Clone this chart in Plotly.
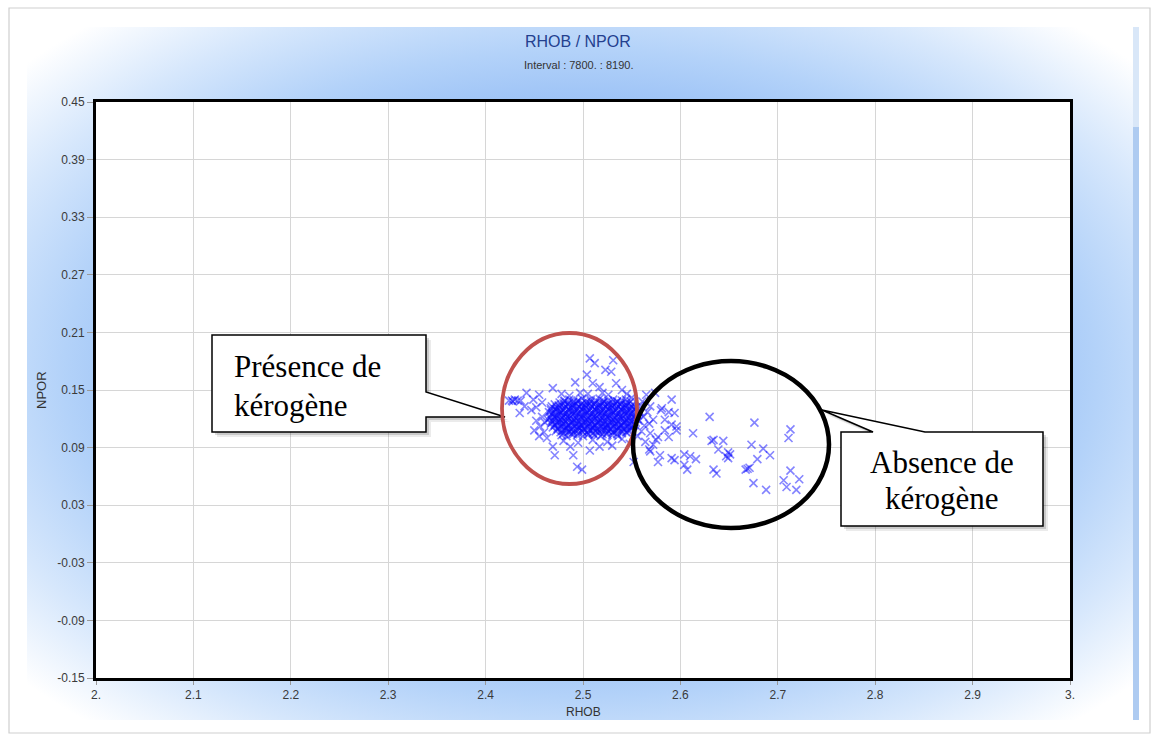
import base64
import plotly.graph_objects as go

# ---------------- data ----------------
# dense core of the cloud (first layer)
rhob_core = [
    2.481, 2.486, 2.490, 2.495, 2.499, 2.504, 2.508, 2.513, 2.517, 2.522, 2.526, 2.531, 2.535, 2.540, 2.544,
    2.471, 2.475, 2.480, 2.484, 2.489, 2.493, 2.498, 2.502, 2.507, 2.511, 2.516, 2.520, 2.525, 2.529, 2.534, 2.538, 2.543, 2.547, 2.551,
    2.467, 2.472, 2.476, 2.481, 2.485, 2.490, 2.494, 2.499, 2.503, 2.508, 2.512, 2.517, 2.521, 2.526, 2.530, 2.535, 2.539, 2.544, 2.548, 2.553,
    2.465, 2.469, 2.474, 2.478, 2.483, 2.487, 2.492, 2.496, 2.501, 2.505, 2.510, 2.514, 2.519, 2.523, 2.528, 2.532, 2.537, 2.541, 2.546, 2.550, 2.555,
    2.466, 2.471, 2.475, 2.480, 2.484, 2.489, 2.493, 2.498, 2.502, 2.507, 2.511, 2.516, 2.520, 2.525, 2.529, 2.534, 2.538, 2.543, 2.547, 2.552, 2.556,
    2.464, 2.468, 2.473, 2.477, 2.482, 2.486, 2.491, 2.495, 2.500, 2.504, 2.509, 2.513, 2.518, 2.522, 2.527, 2.531, 2.536, 2.540, 2.545, 2.549, 2.554,
    2.467, 2.471, 2.476, 2.480, 2.485, 2.489, 2.494, 2.498, 2.503, 2.507, 2.512, 2.516, 2.521, 2.525, 2.530, 2.534, 2.539, 2.543, 2.548, 2.553,
    2.469, 2.474, 2.478, 2.483, 2.487, 2.492, 2.496, 2.501, 2.505, 2.510, 2.514, 2.519, 2.523, 2.528, 2.532, 2.537, 2.541, 2.546, 2.550,
    2.472, 2.477, 2.481, 2.486, 2.490, 2.495, 2.499, 2.504, 2.508, 2.513, 2.517, 2.522, 2.526, 2.531, 2.535, 2.540, 2.544, 2.548,
    2.478, 2.483, 2.488, 2.494, 2.500, 2.506, 2.512, 2.518, 2.524, 2.530, 2.536,
]
npor_core = [
    0.139, 0.140, 0.138, 0.139, 0.141, 0.138, 0.140, 0.139, 0.141, 0.138, 0.139, 0.140, 0.138, 0.139, 0.140,
    0.135, 0.134, 0.136, 0.135, 0.134, 0.136, 0.135, 0.134, 0.136, 0.135, 0.134, 0.136, 0.135, 0.134, 0.136, 0.135, 0.134, 0.136, 0.135,
    0.131, 0.130, 0.132, 0.131, 0.130, 0.132, 0.131, 0.130, 0.132, 0.131, 0.130, 0.132, 0.131, 0.130, 0.132, 0.131, 0.130, 0.132, 0.131, 0.130,
    0.127, 0.126, 0.128, 0.127, 0.126, 0.128, 0.127, 0.126, 0.128, 0.127, 0.126, 0.128, 0.127, 0.126, 0.128, 0.127, 0.126, 0.128, 0.127, 0.126, 0.128,
    0.123, 0.122, 0.124, 0.123, 0.122, 0.124, 0.123, 0.122, 0.124, 0.123, 0.122, 0.124, 0.123, 0.122, 0.124, 0.123, 0.122, 0.124, 0.123, 0.122, 0.124,
    0.119, 0.118, 0.120, 0.119, 0.118, 0.120, 0.119, 0.118, 0.120, 0.119, 0.118, 0.120, 0.119, 0.118, 0.120, 0.119, 0.118, 0.120, 0.119, 0.118, 0.120,
    0.115, 0.114, 0.116, 0.115, 0.114, 0.116, 0.115, 0.114, 0.116, 0.115, 0.114, 0.116, 0.115, 0.114, 0.116, 0.115, 0.114, 0.116, 0.115, 0.114,
    0.111, 0.110, 0.112, 0.111, 0.110, 0.112, 0.111, 0.110, 0.112, 0.111, 0.110, 0.112, 0.111, 0.110, 0.112, 0.111, 0.110, 0.112, 0.111,
    0.107, 0.106, 0.108, 0.107, 0.106, 0.108, 0.107, 0.106, 0.108, 0.107, 0.106, 0.108, 0.107, 0.106, 0.108, 0.107, 0.106, 0.108,
    0.103, 0.102, 0.104, 0.103, 0.102, 0.104, 0.103, 0.102, 0.104, 0.103, 0.102,
]

# dense core (second, interleaved layer)
rhob_core2 = [
    2.476, 2.481, 2.485, 2.490, 2.494, 2.499, 2.503, 2.508, 2.512, 2.517, 2.521, 2.526, 2.530, 2.535, 2.539, 2.544, 2.549,
    2.468, 2.473, 2.478, 2.482, 2.487, 2.491, 2.496, 2.500, 2.505, 2.509, 2.514, 2.518, 2.523, 2.527, 2.532, 2.536, 2.541, 2.545, 2.550, 2.554,
    2.467, 2.471, 2.476, 2.480, 2.485, 2.489, 2.494, 2.498, 2.503, 2.507, 2.512, 2.516, 2.521, 2.525, 2.530, 2.534, 2.539, 2.543, 2.548, 2.552, 2.557,
    2.468, 2.473, 2.477, 2.482, 2.486, 2.491, 2.495, 2.500, 2.504, 2.509, 2.513, 2.518, 2.522, 2.527, 2.531, 2.536, 2.540, 2.545, 2.549, 2.554, 2.558,
    2.466, 2.470, 2.475, 2.479, 2.484, 2.488, 2.493, 2.497, 2.502, 2.506, 2.511, 2.515, 2.520, 2.524, 2.529, 2.533, 2.538, 2.542, 2.547, 2.551, 2.556,
    2.469, 2.473, 2.478, 2.482, 2.487, 2.491, 2.496, 2.500, 2.505, 2.509, 2.514, 2.518, 2.523, 2.527, 2.532, 2.536, 2.541, 2.545, 2.550, 2.554,
    2.471, 2.476, 2.480, 2.485, 2.489, 2.494, 2.498, 2.503, 2.507, 2.512, 2.516, 2.521, 2.525, 2.530, 2.534, 2.539, 2.543, 2.548, 2.552,
    2.474, 2.479, 2.483, 2.488, 2.492, 2.497, 2.501, 2.506, 2.510, 2.515, 2.519, 2.524, 2.528, 2.533, 2.537, 2.542, 2.546, 2.550,
    2.480, 2.485, 2.490, 2.495, 2.500, 2.505, 2.510, 2.515, 2.520, 2.525, 2.530, 2.535, 2.540, 2.545,
]
npor_core2 = [
    0.137, 0.138, 0.136, 0.137, 0.138, 0.136, 0.137, 0.138, 0.136, 0.137, 0.138, 0.136, 0.137, 0.138, 0.136, 0.137, 0.138,
    0.133, 0.132, 0.134, 0.133, 0.132, 0.134, 0.133, 0.132, 0.134, 0.133, 0.132, 0.134, 0.133, 0.132, 0.134, 0.133, 0.132, 0.134, 0.133, 0.132,
    0.129, 0.130, 0.128, 0.129, 0.130, 0.128, 0.129, 0.130, 0.128, 0.129, 0.130, 0.128, 0.129, 0.130, 0.128, 0.129, 0.130, 0.128, 0.129, 0.130, 0.128,
    0.125, 0.124, 0.126, 0.125, 0.124, 0.126, 0.125, 0.124, 0.126, 0.125, 0.124, 0.126, 0.125, 0.124, 0.126, 0.125, 0.124, 0.126, 0.125, 0.124, 0.126,
    0.121, 0.122, 0.120, 0.121, 0.122, 0.120, 0.121, 0.122, 0.120, 0.121, 0.122, 0.120, 0.121, 0.122, 0.120, 0.121, 0.122, 0.120, 0.121, 0.122, 0.120,
    0.117, 0.116, 0.118, 0.117, 0.116, 0.118, 0.117, 0.116, 0.118, 0.117, 0.116, 0.118, 0.117, 0.116, 0.118, 0.117, 0.116, 0.118, 0.117, 0.116,
    0.113, 0.114, 0.112, 0.113, 0.114, 0.112, 0.113, 0.114, 0.112, 0.113, 0.114, 0.112, 0.113, 0.114, 0.112, 0.113, 0.114, 0.112, 0.113,
    0.109, 0.108, 0.110, 0.109, 0.108, 0.110, 0.109, 0.108, 0.110, 0.109, 0.108, 0.110, 0.109, 0.108, 0.110, 0.109, 0.108, 0.110,
    0.105, 0.106, 0.104, 0.105, 0.106, 0.104, 0.105, 0.106, 0.104, 0.105, 0.106, 0.104, 0.105, 0.106,
]

# left edge of the cloud (incl. the flat streak near 2.43)
rhob_left = [2.424, 2.427, 2.430, 2.433, 2.436, 2.428, 2.442, 2.435, 2.449, 2.455, 2.447,
             2.440, 2.458, 2.452, 2.452, 2.456, 2.460, 2.455, 2.461, 2.458, 2.463, 2.450]
npor_left = [0.139, 0.139, 0.140, 0.139, 0.139, 0.138, 0.147, 0.126, 0.140, 0.145, 0.129,
             0.133, 0.137, 0.132, 0.118, 0.112, 0.106, 0.102, 0.116, 0.122, 0.100, 0.108]

# points above the core
rhob_top = [2.507, 2.512, 2.523, 2.504, 2.492, 2.510, 2.517, 2.497, 2.469, 2.531,
            2.529, 2.534, 2.520, 2.540, 2.545, 2.478, 2.505, 2.526, 2.550, 2.486]
npor_top = [0.183, 0.178, 0.171, 0.166, 0.158, 0.157, 0.153, 0.147, 0.152, 0.181,
            0.169, 0.157, 0.147, 0.150, 0.146, 0.146, 0.146, 0.145, 0.142, 0.144]

# points below the core
rhob_bottom = [2.471, 2.490, 2.494, 2.499, 2.487, 2.469, 2.517, 2.507,
               2.480, 2.495, 2.510, 2.525, 2.540, 2.548, 2.530, 2.552]
npor_bottom = [0.082, 0.082, 0.070, 0.067, 0.091, 0.091, 0.091, 0.087,
               0.097, 0.095, 0.098, 0.096, 0.099, 0.094, 0.092, 0.075]

# transition zone 2.555 - 2.60
rhob_mid = [2.591, 2.565, 2.574, 2.559, 2.569, 2.581, 2.588, 2.594, 2.562, 2.572, 2.584, 2.591,
            2.596, 2.560, 2.569, 2.577, 2.588, 2.564, 2.572, 2.569, 2.579, 2.577, 2.591, 2.594,
            2.558, 2.563, 2.566, 2.557, 2.561, 2.556, 2.580, 2.568, 2.584, 2.575, 2.568, 2.596]
npor_mid = [0.140, 0.145, 0.147, 0.134, 0.133, 0.131, 0.127, 0.126, 0.122, 0.119, 0.119, 0.114,
            0.112, 0.107, 0.105, 0.101, 0.101, 0.096, 0.093, 0.086, 0.082, 0.075, 0.079, 0.077,
            0.128, 0.113, 0.127, 0.118, 0.138, 0.102, 0.129, 0.115, 0.108, 0.098, 0.088, 0.108]

# sparse tail (no kerogen)
rhob_tail = [2.630, 2.676, 2.713, 2.711, 2.613, 2.632, 2.644, 2.639, 2.649, 2.649, 2.673, 2.685,
             2.692, 2.679, 2.671, 2.667, 2.675, 2.688, 2.713, 2.706, 2.709, 2.722, 2.719, 2.604,
             2.610, 2.616, 2.604, 2.607, 2.634, 2.637, 2.634, 2.669, 2.651, 2.647]
npor_tail = [0.122, 0.116, 0.109, 0.100, 0.105, 0.097, 0.097, 0.088, 0.085, 0.079, 0.093, 0.089,
             0.082, 0.078, 0.069, 0.067, 0.053, 0.046, 0.066, 0.056, 0.049, 0.057, 0.046, 0.083,
             0.081, 0.078, 0.072, 0.067, 0.067, 0.063, 0.098, 0.068, 0.083, 0.081]

x_tickvals = [2.0, 2.1, 2.2, 2.3, 2.4, 2.5, 2.6, 2.7, 2.8, 2.9, 3.0]
x_ticktext = ["2.", "2.1", "2.2", "2.3", "2.4", "2.5", "2.6", "2.7", "2.8", "2.9", "3."]
y_tickvals = [0.45, 0.39, 0.33, 0.27, 0.21, 0.15, 0.09, 0.03, -0.03, -0.09, -0.15]
y_ticktext = ["0.45", "0.39", "0.33", "0.27", "0.21", "0.15", "0.09", "0.03", "-0.03", "-0.09", "-0.15"]

title_text = "RHOB / NPOR"
subtitle_text = "Interval : 7800. : 8190."
x_title = "RHOB"
y_title = "NPOR"
label_present = ["Présence de", "kérogène"]
label_absent = ["Absence de", "kérogène"]

# ---------------- layout geometry ----------------
W, H = 1153, 736
L, R, T, B = 96, 1070, 102, 678
XMIN, XMAX, YMIN, YMAX = 2.0, 3.0, -0.15, 0.45


def px(x):
    return (x - L) / (R - L)


def py(y):
    return (B - y) / (B - T)


def dx(x):
    return XMIN + (x - L) / (R - L) * (XMAX - XMIN)


def dy(y):
    return YMAX - (y - T) / (B - T) * (YMAX - YMIN)


rhob_all = rhob_core + rhob_core2 + rhob_left + rhob_top + rhob_bottom + rhob_mid + rhob_tail
npor_all = npor_core + npor_core2 + npor_left + npor_top + npor_bottom + npor_mid + npor_tail

fig = go.Figure()
fig.add_trace(go.Scatter(
    x=rhob_all, y=npor_all, mode="markers",
    marker=dict(symbol="x-thin", size=8, color="rgba(10,10,255,0.5)",
                line=dict(width=1.6, color="rgba(10,10,255,0.5)")),
    hoverinfo="skip", showlegend=False,
))

# gradient panel background
svg = (
    "<svg xmlns='http://www.w3.org/2000/svg' width='1109' height='693' viewBox='0 0 1109 693' "
    "preserveAspectRatio='none'><defs><radialGradient id='g' cx='0.5' cy='0.5' r='0.707' "
    "gradientUnits='objectBoundingBox'>"
    "<stop offset='0' stop-color='#7fb0f3'/>"
    "<stop offset='0.55' stop-color='#9cc2f6'/>"
    "<stop offset='0.66' stop-color='#b3d2f9'/>"
    "<stop offset='0.80' stop-color='#d6e7fc'/>"
    "<stop offset='0.95' stop-color='#ffffff'/>"
    "</radialGradient></defs><rect width='1109' height='693' fill='url(#g)'/></svg>"
)
src = "data:image/svg+xml;base64," + base64.b64encode(svg.encode()).decode()
fig.add_layout_image(dict(
    source=src, xref="paper", yref="paper",
    x=px(27), y=py(27), sizex=px(1134) - px(27), sizey=py(27) - py(720),
    xanchor="left", yanchor="top", sizing="stretch", layer="below",
))

shapes = []
# white plot area over the gradient
shapes.append(dict(type="rect", xref="paper", yref="paper", x0=0, x1=1, y0=0, y1=1,
                   fillcolor="white", line=dict(width=0), layer="below"))
# outer frame
shapes.append(dict(type="rect", xref="paper", yref="paper", x0=px(9), x1=px(1150),
                   y0=py(733), y1=py(8), line=dict(color="#cfcfcf", width=1.2), layer="below"))
# right side strip
shapes.append(dict(type="rect", xref="paper", yref="paper", x0=px(1133), x1=px(1139),
                   y0=py(720), y1=py(27), fillcolor="#aecbf1", line=dict(width=0), layer="below"))
shapes.append(dict(type="rect", xref="paper", yref="paper", x0=px(1133), x1=px(1139),
                   y0=py(127), y1=py(27), fillcolor="#d9e7f8", line=dict(width=0), layer="below"))


def path_from(points):
    s = "M " + " L ".join(f"{dx(a):.5f},{dy(b):.5f}" for a, b in points) + " Z"
    return s


box1 = [(212, 335), (426, 335), (426, 392), (505, 417), (426, 417), (426, 432), (212, 432)]
box2 = [(841, 432), (873, 432), (822, 410), (925, 432), (1043, 432), (1043, 526), (841, 526)]

for box in (box1, box2):
    for off, alpha in ((5, 0.08), (3, 0.14)):
        shifted = [(a + off, b + off) for a, b in box]
        shapes.append(dict(type="path", xref="x", yref="y", path=path_from(shifted),
                           fillcolor=f"rgba(0,0,0,{alpha})", line=dict(width=0), layer="above"))
    shapes.append(dict(type="path", xref="x", yref="y", path=path_from(box),
                       fillcolor="white", line=dict(color="black", width=1.5), layer="above"))

# ellipses
shapes.append(dict(type="circle", xref="x", yref="y", x0=dx(502), x1=dx(637), y0=dy(484), y1=dy(333),
                   line=dict(color="#c0504d", width=3.8), layer="above"))
shapes.append(dict(type="circle", xref="x", yref="y", x0=dx(633), x1=dx(829), y0=dy(528), y1=dy(361),
                   line=dict(color="black", width=4.5), layer="above"))

sans = "Liberation Sans, Arial"
ann = []
ann.append(dict(text=title_text, xref="paper", yref="paper", x=px(578), y=py(41), showarrow=False,
                xanchor="center", yanchor="middle",
                font=dict(family=sans, size=16, color="#23408f")))
ann.append(dict(text=subtitle_text, xref="paper", yref="paper", x=px(578), y=py(65), showarrow=False,
                xanchor="center", yanchor="middle",
                font=dict(family=sans, size=11, color="#333333")))
ann.append(dict(text=x_title, xref="paper", yref="paper", x=px(583), y=py(712), showarrow=False,
                xanchor="center", yanchor="middle",
                font=dict(family=sans, size=12, color="#333333")))
ann.append(dict(text=y_title, xref="paper", yref="paper", x=px(41), y=py(390), showarrow=False,
                xanchor="center", yanchor="middle", textangle=-90,
                font=dict(family=sans, size=13, color="#333333")))

serif = dict(family="Liberation Serif, Times New Roman", size=31, color="black")
ann.append(dict(text=label_present[0], xref="x", yref="y", x=dx(232), y=dy(366), xanchor="left",
                yanchor="middle", showarrow=False, font=serif))
ann.append(dict(text=label_present[1], xref="x", yref="y", x=dx(232), y=dy(405), xanchor="left",
                yanchor="middle", showarrow=False, font=serif))
ann.append(dict(text=label_absent[0], xref="x", yref="y", x=dx(942), y=dy(462), xanchor="center",
                yanchor="middle", showarrow=False, font=serif))
ann.append(dict(text=label_absent[1], xref="x", yref="y", x=dx(942), y=dy(498), xanchor="center",
                yanchor="middle", showarrow=False, font=serif))

tickfont = dict(family=sans, size=12, color="#3a3a3a")
fig.update_layout(
    width=W, height=H,
    margin=dict(l=L, r=W - R, t=T, b=H - B, pad=0),
    paper_bgcolor="white", plot_bgcolor="rgba(0,0,0,0)",
    shapes=shapes, annotations=ann, showlegend=False, hovermode=False,
    xaxis=dict(range=[XMIN, XMAX], tickmode="array", tickvals=x_tickvals, ticktext=x_ticktext,
               showgrid=True, gridcolor="#d6d6d6", gridwidth=1, zeroline=False,
               showline=True, linecolor="black", linewidth=3, mirror=True,
               ticks="outside", ticklen=4, tickcolor="#999999", tickfont=tickfont, fixedrange=True),
    yaxis=dict(range=[YMIN, YMAX], tickmode="array", tickvals=y_tickvals, ticktext=y_ticktext,
               showgrid=True, gridcolor="#d6d6d6", gridwidth=1, zeroline=False,
               showline=True, linecolor="black", linewidth=3, mirror=True,
               ticks="outside", ticklen=6, tickcolor="#999999", tickfont=tickfont, fixedrange=True),
)

fig.write_html("out.html", config={"displayModeBar": False})
